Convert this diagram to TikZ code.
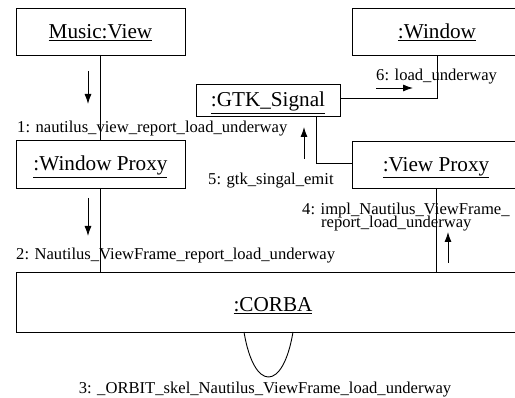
\documentclass[tikz,border=0pt]{standalone}
\usepackage{fontspec}
\setmainfont{Liberation Serif}
\usetikzlibrary{arrows.meta}
\newcommand\lblfont{\fontsize{16.6}{12.4}\selectfont\lineskiplimit=-20pt\relax}
\newcommand\objfont{\fontsize{21.2}{24}\selectfont}
\begin{document}
\begin{tikzpicture}[x=1pt,y=-1pt,
  obj/.style={draw, line width=0.9pt, inner sep=0pt, outer sep=0pt,
    font=\objfont, text height=14pt, text depth=0pt},
  lbl/.style={inner sep=0pt, font=\lblfont},
  conn/.style={line width=0.9pt},
  msg/.style={line width=0.9pt, -{Latex[length=10pt,width=7pt]}}]
\useasboundingbox (0,0) rectangle (515,398);
\clip (0,0) rectangle (515,398);

% objects
\node[obj, minimum width=169pt, minimum height=47pt] (mv) at (100.5,31.5) {\underline{Music:View}};
\node[obj, minimum width=169pt, minimum height=48pt] (wp) at (100.5,164) {\underline{:Window Proxy}};
\node[obj, minimum width=144pt, minimum height=32pt] (gtk) at (268,100) {\underline{:GTK\_Signal}};
\node[obj, minimum width=170pt, minimum height=47pt] (win) at (437,31.5) {\underline{:Window}};
\node[obj, minimum width=168pt, minimum height=47pt] (vp) at (436,164.5) {\underline{:View Proxy}};
\node[obj, minimum width=514pt, minimum height=60pt, text height=19pt] (corba) at (273,302) {\underline{:CORBA}};

% links
\draw[conn] (mv.south) -- (wp.north);
\draw[conn] (wp.south) -- (wp.south |- corba.north);
\draw[conn] ([yshift=2pt]gtk.east) -| (win.south);
\draw[conn] ([xshift=-24pt]gtk.south east) |- ([yshift=1pt]vp.west);
\draw[conn] (vp.south) -- (vp.south |- corba.north);
\draw[conn] ([xshift=-29pt]corba.south) .. controls +(10,60) and +(-10,60) .. ([xshift=20pt]corba.south);

% message arrows
\coordinate (m1a) at (88,71);   \coordinate (m1b) at (88,104);
\coordinate (m2a) at (88,198);  \coordinate (m2b) at (88,236);
\coordinate (m4a) at (448,263); \coordinate (m4b) at (448,232);
\coordinate (m5a) at (304,159); \coordinate (m5b) at (304,127);
\coordinate (m6a) at (376,88);  \coordinate (m6b) at (413,88);
\draw[msg] (m1a) -- (m1b);
\draw[msg] (m2a) -- (m2b);
\draw[msg] (m4a) -- (m4b);
\draw[msg] (m5a) -- (m5b);
\draw[msg] (m6a) -- (m6b);

% labels
\node[lbl, anchor=base west] (l1) at (17,133) {1: nautilus\_view\_report\_load\_underway};
\node[lbl, anchor=base west] (l2) at (16,260) {2: Nautilus\_ViewFrame\_report\_load\_underway};
\node[lbl, anchor=base] (l3) at (265,393.5) {3: \_ORBIT\_skel\_Nautilus\_ViewFrame\_load\_underway};
\node[lbl, anchor=north west, align=left] (l4) at (302,203) {4: impl\_Nautilus\_ViewFrame\_\\\hspace*{19pt}report\_load\_underway};
\node[lbl, anchor=base west] (l5) at (208,185) {5: gtk\_singal\_emit};
\node[lbl, anchor=base west] (l6) at (376,81) {6: load\_underway};
\end{tikzpicture}
\end{document}
